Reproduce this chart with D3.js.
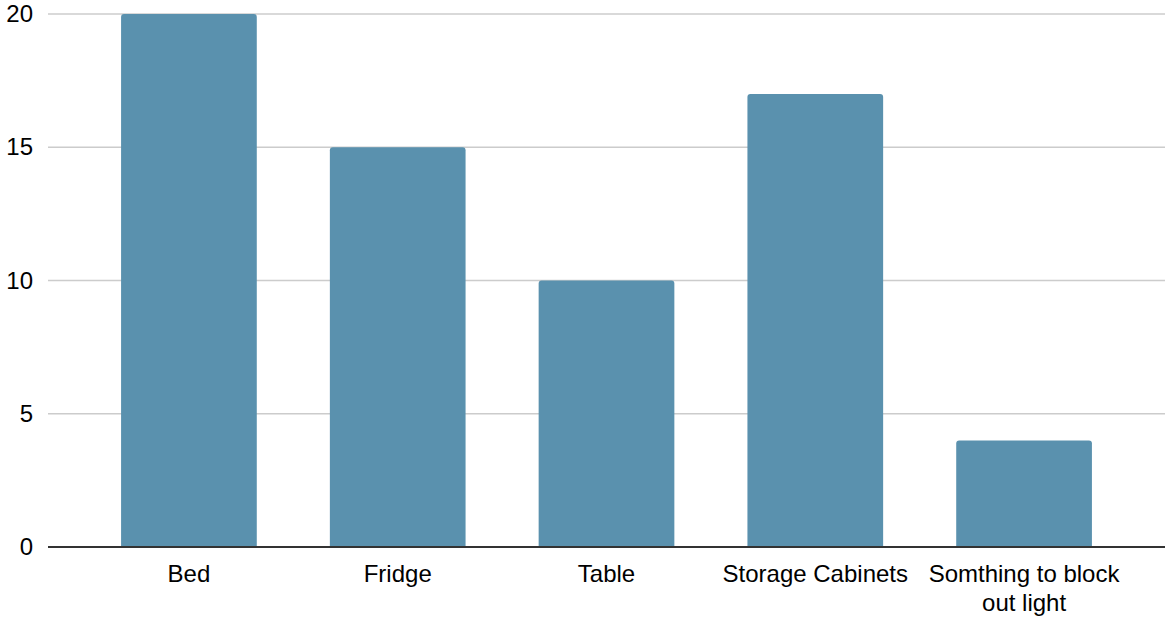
<!DOCTYPE html>
<html>
<head>
<meta charset="utf-8">
<script src="https://cdn.jsdelivr.net/npm/d3@7"></script>
<style>
  body { margin: 0; background: #fff; }
  text { font-family: "Liberation Sans", Arial, sans-serif; }
</style>
</head>
<body>
<div id="chart"></div>
<script>
// data
var categories = ["Bed", "Fridge", "Table", "Storage Cabinets", "Somthing to block out light"];
var values = [20, 15, 10, 17, 4];
var yTicks = [0, 5, 10, 15, 20];

var W = 1165, H = 620;
var margin = {top: 14, right: 0, bottom: 73, left: 48};

var svg = d3.select("#chart")
  .append("svg")
  .attr("width", W)
  .attr("height", H);

var x = d3.scaleBand()
  .domain(categories)
  .range([margin.left, W - margin.right])
  .paddingInner(0.35)
  .paddingOuter(0.35);

var y = d3.scaleLinear()
  .domain([0, 20])
  .range([H - margin.bottom, margin.top]);

// gridlines
svg.append("g")
  .selectAll("line")
  .data(yTicks.filter(function(d) { return d > 0; }))
  .join("line")
  .attr("x1", margin.left)
  .attr("x2", W - margin.right)
  .attr("y1", function(d) { return y(d); })
  .attr("y2", function(d) { return y(d); })
  .attr("stroke", "#cccccc")
  .attr("stroke-width", 1.5);

// y axis labels
var yAxis = svg.append("g")
  .attr("transform", "translate(" + margin.left + ",0)")
  .call(d3.axisLeft(y).tickValues(yTicks).tickSize(0).tickPadding(15));
yAxis.select(".domain").remove();
yAxis.selectAll("text")
  .attr("font-size", 24)
  .attr("fill", "#000")
  .style("font-family", "'Liberation Sans', Arial, sans-serif");

// bars with rounded top corners
var r = 3;
svg.append("g")
  .selectAll("path")
  .data(categories)
  .join("path")
  .attr("fill", "#5a91ae")
  .attr("d", function(d, i) {
    var x0 = x(d), x1 = x(d) + x.bandwidth();
    var y0 = y(0), y1 = y(values[i]);
    return "M" + x0 + "," + y0 +
      "V" + (y1 + r) +
      "Q" + x0 + "," + y1 + " " + (x0 + r) + "," + y1 +
      "H" + (x1 - r) +
      "Q" + x1 + "," + y1 + " " + x1 + "," + (y1 + r) +
      "V" + y0 + "Z";
  });

// baseline
svg.append("line")
  .attr("x1", margin.left)
  .attr("x2", W - margin.right)
  .attr("y1", y(0))
  .attr("y2", y(0))
  .attr("stroke", "#333333")
  .attr("stroke-width", 2);

// x axis labels
var xAxis = svg.append("g")
  .attr("transform", "translate(0," + y(0) + ")")
  .call(d3.axisBottom(x).tickSize(0).tickPadding(18));
xAxis.select(".domain").remove();
xAxis.selectAll("text")
  .attr("font-size", 24)
  .attr("fill", "#000")
  .style("font-family", "'Liberation Sans', Arial, sans-serif")
  .call(wrap, x.step());

function wrap(texts, width) {
  texts.each(function() {
    var text = d3.select(this),
        words = text.text().split(/\s+/),
        line = [],
        lineNumber = 0,
        lineHeight = 29,
        ty = +text.attr("y"),
        dy = text.attr("dy"),
        tspan = text.text(null).append("tspan").attr("x", 0).attr("y", ty).attr("dy", dy);
    words.forEach(function(word) {
      line.push(word);
      tspan.text(line.join(" "));
      if (tspan.node().getComputedTextLength() > width && line.length > 1) {
        line.pop();
        tspan.text(line.join(" "));
        line = [word];
        lineNumber++;
        tspan = text.append("tspan")
          .attr("x", 0)
          .attr("y", ty + lineNumber * lineHeight)
          .attr("dy", dy)
          .text(word);
      }
    });
  });
}
</script>
</body>
</html>
